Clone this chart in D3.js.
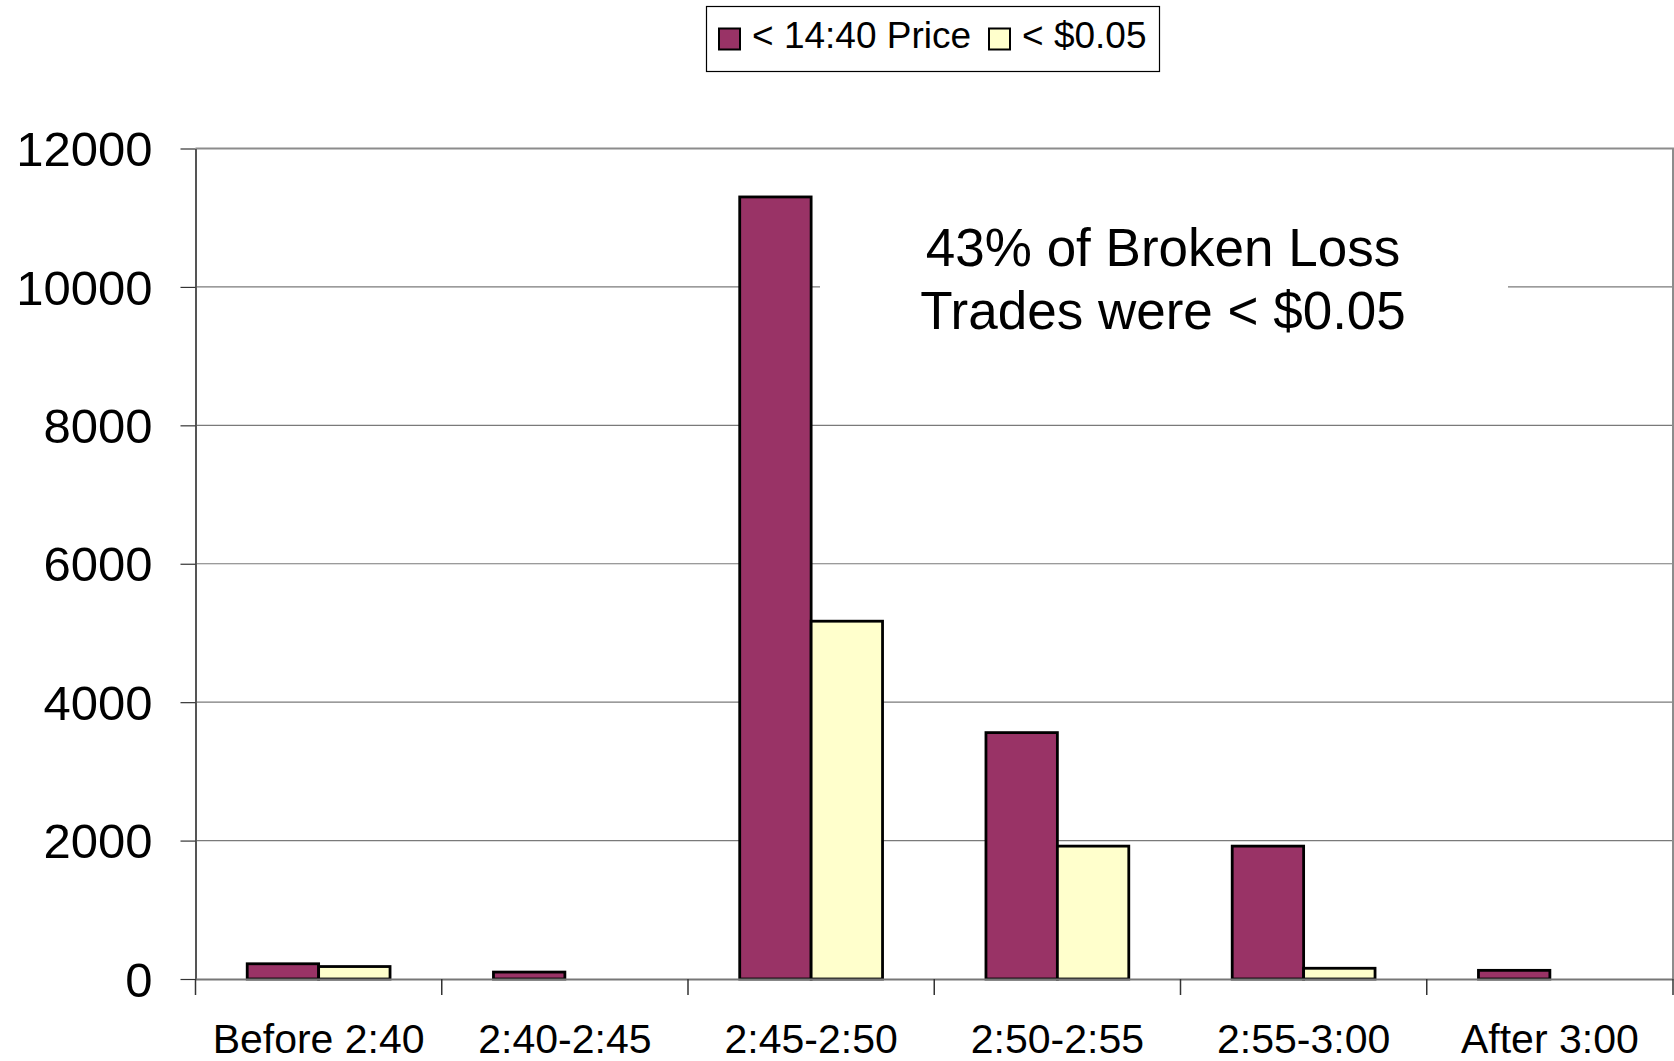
<!DOCTYPE html>
<html>
<head>
<meta charset="utf-8">
<script src="https://cdn.jsdelivr.net/npm/d3@7"></script>
<style>
  body { margin: 0; background: #fff; }
  text { font-family: "Liberation Sans", Arial, sans-serif; fill: #000; }
</style>
</head>
<body>
<div id="chart"></div>
<script>
// broken loss trades by time bucket
var categories = ["Before 2:40", "2:40-2:45", "2:45-2:50", "2:50-2:55", "2:55-3:00", "After 3:00"];
var belowPrice = [220, 100, 11300, 3560, 1920, 125];
var belowNickel = [180, 0, 5170, 1920, 155, 0];
var seriesNames = ["< 14:40 Price", "< $0.05"];
var seriesColors = ["#993366", "#FFFFCC"];
var yTicks = [0, 2000, 4000, 6000, 8000, 10000, 12000];

var svgWidth = 1674;
var svgHeight = 1061;
var margin = { top: 148.5, right: 1, bottom: 82, left: 195.5 };
var width = svgWidth - margin.left - margin.right;
var height = svgHeight - margin.top - margin.bottom;

var svg = d3.select("#chart")
    .append("svg")
    .attr("width", svgWidth)
    .attr("height", svgHeight);

var chartGroup = svg.append("g")
    .attr("transform", `translate(${margin.left},${margin.top})`);

// scales
var x0 = d3.scaleBand().domain(categories).range([0, width]);
var gap = x0.step() * 0.42;
var x1 = d3.scaleBand().domain(seriesNames).range([gap / 2, x0.step() - gap / 2]);
var y = d3.scaleLinear().domain([0, 12000]).range([height, 0]);

// gridlines
chartGroup.append("g").selectAll("line")
    .data(yTicks.filter(t => t > 0 && t < 12000))
    .enter().append("line")
    .attr("x1", 0).attr("x2", width)
    .attr("y1", d => y(d)).attr("y2", d => y(d))
    .attr("stroke", "#7a7a7a").attr("stroke-width", 1.2);

// plot frame (top and right)
chartGroup.append("path")
    .attr("d", `M0,0H${width}V${height}`)
    .attr("fill", "none").attr("stroke", "#8c8c8c").attr("stroke-width", 2);

// annotation backdrop hides the gridline behind it
chartGroup.append("rect")
    .attr("x", 820 - margin.left).attr("y", 205 - margin.top)
    .attr("width", 688).attr("height", 135)
    .attr("fill", "#fff");

// bars
var rows = categories.map((c, i) => ({ cat: c, vals: [belowPrice[i], belowNickel[i]] }));
var groups = chartGroup.selectAll(".grp")
    .data(rows).enter().append("g")
    .attr("transform", d => `translate(${x0(d.cat)},0)`);

groups.selectAll("rect")
    .data(d => d.vals.map((v, k) => ({ key: seriesNames[k], v: v, k: k })).filter(e => e.v > 0))
    .enter().append("rect")
    .attr("x", d => x1(d.key))
    .attr("width", x1.bandwidth())
    .attr("y", d => y(d.v))
    .attr("height", d => height - y(d.v))
    .attr("fill", d => seriesColors[d.k])
    .attr("stroke", "#000").attr("stroke-width", 2.8);

// axes
var yAxis = d3.axisLeft(y).tickValues(yTicks).tickFormat(d3.format("d"))
    .tickSize(15).tickPadding(30).tickSizeOuter(0);
var yG = chartGroup.append("g").call(yAxis);
yG.select(".domain").attr("stroke", "#555").attr("stroke-width", 2);
yG.selectAll(".tick line").attr("stroke", "#333").attr("stroke-width", 1.2);
yG.selectAll(".tick text").attr("font-size", 49).attr("dy", "0.35em").attr("x", -43);

var xAxis = d3.axisBottom(x0).tickSize(0).tickPadding(0).tickSizeOuter(0);
var xG = chartGroup.append("g")
    .attr("transform", `translate(0,${height})`)
    .call(xAxis);
xG.select(".domain").attr("stroke", "#777").attr("stroke-width", 2);
xG.selectAll(".tick text").attr("font-size", 41).attr("y", 74).attr("dy", 0);

// category separator ticks
xG.append("g").selectAll("line")
    .data(d3.range(categories.length + 1))
    .enter().append("line")
    .attr("x1", i => i * x0.step()).attr("x2", i => i * x0.step())
    .attr("y1", 0).attr("y2", 16)
    .attr("stroke", "#333").attr("stroke-width", 1.5);

// annotation
var note = chartGroup.append("text")
    .attr("text-anchor", "middle")
    .attr("font-size", 53);
note.append("tspan").attr("x", 1163 - margin.left).attr("y", 266 - margin.top).text("43% of Broken Loss");
note.append("tspan").attr("x", 1163 - margin.left).attr("y", 329 - margin.top).text("Trades were < $0.05");

// legend
var legend = svg.append("g");
legend.append("rect")
    .attr("x", 706.5).attr("y", 6.5).attr("width", 453).attr("height", 65)
    .attr("fill", "#fff").attr("stroke", "#000").attr("stroke-width", 1.2);

var legX = [719, 989];
seriesNames.forEach(function(name, k) {
    legend.append("rect")
        .attr("x", legX[k]).attr("y", 28.5).attr("width", 21).attr("height", 21)
        .attr("fill", seriesColors[k]).attr("stroke", "#000").attr("stroke-width", 2);
    legend.append("text")
        .attr("x", legX[k] + 33).attr("y", 48)
        .attr("font-size", 37)
        .text(name);
});
</script>
</body>
</html>
